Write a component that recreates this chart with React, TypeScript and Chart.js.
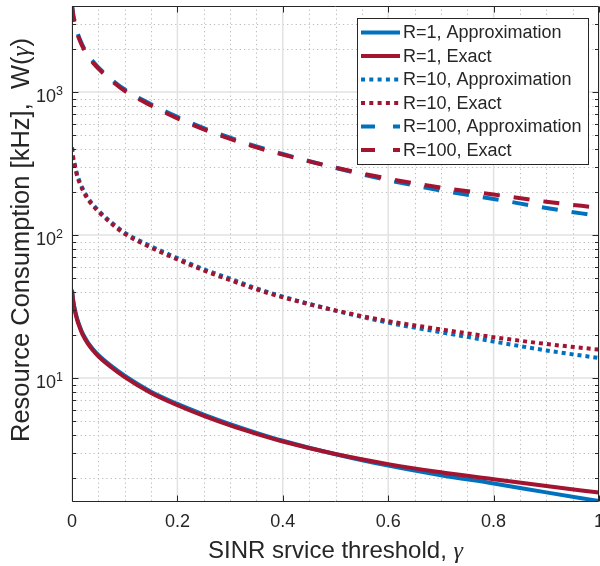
import React, { useEffect, useRef } from "react";
import { Chart, registerables } from "chart.js";

Chart.register(...registerables);

// ---------------- data ----------------
const gamma = [0, 0.0025, 0.005, 0.01, 0.015, 0.02, 0.03, 0.04, 0.05, 0.075, 0.1, 0.15, 0.2, 0.25, 0.3, 0.35, 0.4, 0.5, 0.6, 0.7, 0.8, 0.9, 1.0];
const r1Approx = [41.4, 34.5, 30.7, 25.9, 22.9, 20.6, 17.8, 15.9, 14.5, 12.1, 10.37, 8.02, 6.59, 5.55, 4.76, 4.14, 3.64, 2.93, 2.44, 2.09, 1.83, 1.585, 1.38];
const r1Exact = [40.5, 33.8, 30.0, 25.3, 22.4, 20.2, 17.4, 15.6, 14.2, 11.85, 10.15, 7.85, 6.45, 5.43, 4.66, 4.07, 3.6, 2.94, 2.5, 2.19, 1.96, 1.755, 1.58];
const r10Approx = [412, 346, 316, 263, 234, 212.5, 182, 163.5, 149, 122.5, 104, 83.5, 69, 57.7, 49.5, 42.4, 37.1, 29.6, 24.4, 20.9, 18.0, 15.6, 13.8];
const r10Exact = [406, 339, 309, 257, 229, 208, 178, 160, 146, 120, 102, 81.7, 67.5, 56.5, 48.4, 41.7, 36.7, 29.7, 25.0, 21.9, 19.3, 17.3, 15.8];
const r100Approx = [4090, 3465, 3150, 2625, 2340, 2125, 1820, 1635, 1490, 1225, 1042, 823, 670, 560, 480, 417, 369, 295, 242, 205, 179, 154.5, 136];
const r100Exact = [4000, 3390, 3080, 2570, 2290, 2080, 1780, 1600, 1460, 1200, 1020, 805, 655, 548, 470, 410, 365, 296, 248, 215, 192, 171, 155];

const seriesLabels = [
  "R=1, Approximation",
  "R=1, Exact",
  "R=10, Approximation",
  "R=10, Exact",
  "R=100, Approximation",
  "R=100, Exact",
];
const seriesValues = [r1Approx, r1Exact, r10Approx, r10Exact, r100Approx, r100Exact];
const seriesStyles = ["solid", "solid", "dotted", "dotted", "dashed", "dashed"];
const seriesKinds = ["approx", "exact", "approx", "exact", "approx", "exact"];

const xMajorTicks = [0, 0.2, 0.4, 0.6, 0.8, 1];
const xTickLabels = ["0", "0.2", "0.4", "0.6", "0.8", "1"];
const xMinorTicks = [0.05, 0.1, 0.15, 0.25, 0.3, 0.35, 0.45, 0.5, 0.55, 0.65, 0.7, 0.75, 0.85, 0.9, 0.95];
const yMajorTicks = [10, 100, 1000];
const yTickExponents = ["1", "2", "3"];
const yMinorTicks = [2, 3, 4, 5, 6, 7, 8, 9, 20, 30, 40, 50, 60, 70, 80, 90, 200, 300, 400, 500, 600, 700, 800, 900, 2000, 3000];
const xRange = [0, 1];
const yRange = [1.38, 4000];

const xTitle = "SINR srvice threshold, ";
const yTitle = "Resource Consumption [kHz],  W(";

// ---------------- styles ----------------
const SANS = "'Liberation Sans', Arial, Helvetica, sans-serif";
const SERIF = "'Liberation Serif', 'Times New Roman', serif";
const TEXT = "#262626";
const COLORS: Record<string, string> = { approx: "#0072BD", exact: "#A2142F" };
const PLOT_DASH: Record<string, number[]> = { solid: [], dotted: [4, 4], dashed: [16, 14] };
const LEGEND_DASH: Record<string, number[]> = { solid: [], dotted: [4, 4.3], dashed: [14, 18] };

type Part = { text: string; font: string; dy?: number };

function drawParts(ctx: CanvasRenderingContext2D, parts: Part[], x: number, y: number, align: "left" | "center" | "right") {
  const widths = parts.map((p) => {
    ctx.font = p.font;
    return ctx.measureText(p.text).width;
  });
  const total = widths.reduce((a, b) => a + b, 0);
  let cx = align === "center" ? x - total / 2 : align === "right" ? x - total : x;
  ctx.textAlign = "left";
  parts.forEach((p, i) => {
    ctx.font = p.font;
    ctx.fillText(p.text, cx, y + (p.dy || 0));
    cx += widths[i];
  });
}

const matlabAxes = {
  id: "matlabAxes",
  beforeDatasetsDraw(chart: any) {
    const { ctx, chartArea } = chart;
    const { left, right, top, bottom } = chartArea;
    const xs = chart.scales.x;
    const ys = chart.scales.y;
    ctx.save();
    // minor grid (dotted)
    ctx.strokeStyle = "#bdbdbd";
    ctx.lineWidth = 1;
    ctx.setLineDash([1.3, 3]);
    xMinorTicks.forEach((v) => {
      const px = Math.round(xs.getPixelForValue(v)) + 0.5;
      ctx.beginPath();
      ctx.moveTo(px, bottom);
      ctx.lineTo(px, top);
      ctx.stroke();
    });
    yMinorTicks.forEach((v) => {
      const py = Math.round(ys.getPixelForValue(v)) + 0.5;
      if (py < top || py > bottom) return;
      ctx.beginPath();
      ctx.moveTo(left, py);
      ctx.lineTo(right, py);
      ctx.stroke();
    });
    // major grid (solid)
    ctx.setLineDash([]);
    ctx.strokeStyle = "#e2e2e2";
    ctx.lineWidth = 1.5;
    xMajorTicks.forEach((v) => {
      const px = xs.getPixelForValue(v);
      ctx.beginPath();
      ctx.moveTo(px, bottom);
      ctx.lineTo(px, top);
      ctx.stroke();
    });
    yMajorTicks.forEach((v) => {
      const py = ys.getPixelForValue(v);
      ctx.beginPath();
      ctx.moveTo(left, py);
      ctx.lineTo(right, py);
      ctx.stroke();
    });
    ctx.restore();
  },
  afterDatasetsDraw(chart: any) {
    const { ctx, chartArea } = chart;
    const { left, right, top, bottom } = chartArea;
    const xs = chart.scales.x;
    const ys = chart.scales.y;
    const L = Math.round(left) + 0.5;
    const R = Math.round(right) - 0.5;
    const T = Math.round(top) + 0.5;
    const B = Math.round(bottom) + 0.5;
    ctx.save();
    ctx.setLineDash([]);
    ctx.strokeStyle = TEXT;
    ctx.lineWidth = 1;
    // box
    ctx.beginPath();
    ctx.moveTo(L, T);
    ctx.lineTo(R, T);
    ctx.lineTo(R, B);
    ctx.lineTo(L, B);
    ctx.closePath();
    ctx.stroke();
    // ticks
    ctx.beginPath();
    xMajorTicks.forEach((v) => {
      const px = Math.round(xs.getPixelForValue(v)) + 0.5;
      ctx.moveTo(px, B);
      ctx.lineTo(px, B - 6);
      ctx.moveTo(px, T);
      ctx.lineTo(px, T + 6);
    });
    yMajorTicks.forEach((v) => {
      const py = Math.round(ys.getPixelForValue(v)) + 0.5;
      ctx.moveTo(L, py);
      ctx.lineTo(L + 6, py);
      ctx.moveTo(R, py);
      ctx.lineTo(R - 6, py);
    });
    yMinorTicks.forEach((v) => {
      const py = Math.round(ys.getPixelForValue(v)) + 0.5;
      if (py < top || py > bottom) return;
      ctx.moveTo(L, py);
      ctx.lineTo(L + 3.5, py);
      ctx.moveTo(R, py);
      ctx.lineTo(R - 3.5, py);
    });
    ctx.stroke();

    // tick labels
    ctx.fillStyle = TEXT;
    ctx.textBaseline = "alphabetic";
    xMajorTicks.forEach((v, i) => {
      drawParts(ctx, [{ text: xTickLabels[i], font: `18px ${SANS}` }], xs.getPixelForValue(v), bottom + 26, "center");
    });
    yMajorTicks.forEach((v, i) => {
      const py = ys.getPixelForValue(v);
      drawParts(
        ctx,
        [
          { text: "10", font: `18px ${SANS}` },
          { text: yTickExponents[i], font: `12.5px ${SANS}`, dy: -7 },
        ],
        left - 9,
        py + 9.5,
        "right"
      );
    });

    // axis titles
    drawParts(
      ctx,
      [
        { text: xTitle, font: `24px ${SANS}` },
        { text: "\u03B3", font: `italic 24px ${SERIF}` },
      ],
      (left + right) / 2,
      558,
      "center"
    );
    ctx.save();
    ctx.translate(29, 240);
    ctx.rotate(-Math.PI / 2);
    drawParts(
      ctx,
      [
        { text: yTitle, font: `25.5px ${SANS}` },
        { text: "\u03B3", font: `italic 25.5px ${SERIF}` },
        { text: ")", font: `25.5px ${SANS}` },
      ],
      0,
      0,
      "center"
    );
    ctx.restore();

    // legend
    const lx0 = 357.5, ly0 = 18.5, lw = 231, lh = 146;
    ctx.fillStyle = "#ffffff";
    ctx.fillRect(lx0, ly0, lw, lh);
    ctx.strokeStyle = TEXT;
    ctx.lineWidth = 1;
    ctx.strokeRect(lx0, ly0, lw, lh);
    chart.data.datasets.forEach((ds: any, i: number) => {
      const cy = 32.5 + i * 23.5;
      ctx.save();
      ctx.strokeStyle = ds.borderColor;
      ctx.lineWidth = ds.borderWidth;
      ctx.lineCap = "butt";
      ctx.setLineDash(LEGEND_DASH[seriesStyles[i]]);
      ctx.beginPath();
      ctx.moveTo(361, cy);
      ctx.lineTo(400, cy);
      ctx.stroke();
      ctx.restore();
      ctx.fillStyle = TEXT;
      ctx.textBaseline = "middle";
      drawParts(ctx, [{ text: ds.label, font: `18px ${SANS}` }], 403, cy + 1, "left");
    });
    ctx.restore();
  },
};

export default function App() {
  const ref = useRef<HTMLCanvasElement | null>(null);
  useEffect(() => {
    document.body.style.margin = "0";
    if (!ref.current) return;
    const datasets = seriesLabels.map((label, i) => ({
      label,
      data: gamma.map((g, j) => ({ x: g, y: seriesValues[i][j] })),
      borderColor: COLORS[seriesKinds[i]],
      backgroundColor: COLORS[seriesKinds[i]],
      borderWidth: 4,
      borderDash: PLOT_DASH[seriesStyles[i]],
      borderCapStyle: "butt",
      pointRadius: 0,
      fill: false,
      cubicInterpolationMode: "monotone",
      clip: 0,
      order: seriesKinds[i] === "exact" ? 0 : 1,
    }));
    const chart = new Chart(ref.current, {
      type: "line",
      data: { datasets } as any,
      options: {
        animation: false,
        responsive: false,
        maintainAspectRatio: false,
        events: [],
        layout: { padding: { left: 72, right: 1, top: 6, bottom: 65 } },
        plugins: { legend: { display: false }, tooltip: { enabled: false } },
        scales: {
          x: { type: "linear", min: xRange[0], max: xRange[1], display: false },
          y: { type: "logarithmic", min: yRange[0], max: yRange[1], display: false },
        },
      } as any,
      plugins: [matlabAxes as any],
    });
    return () => chart.destroy();
  }, []);
  return <canvas ref={ref} width={600} height={566} style={{ display: "block" }} />;
}
